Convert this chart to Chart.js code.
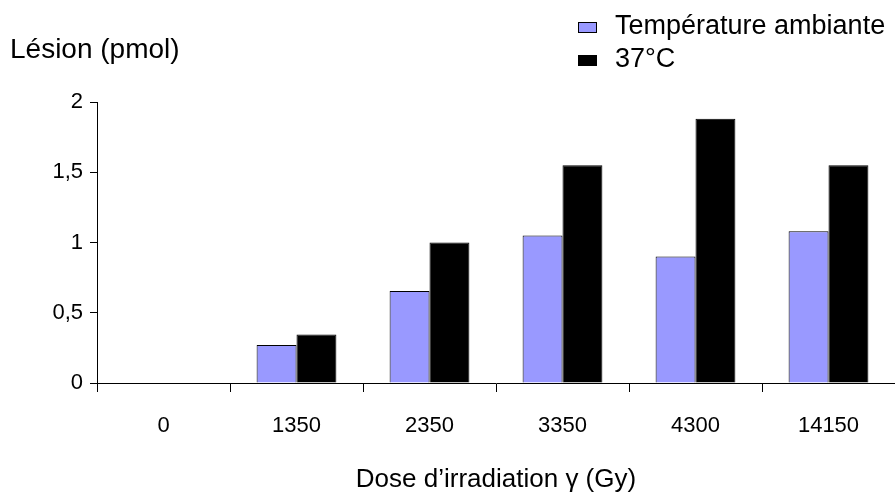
<!DOCTYPE html>
<html lang="fr">
<head>
<meta charset="utf-8">
<title>Lésion en fonction de la dose</title>
<script src="https://cdn.jsdelivr.net/npm/chart.js@4.4.1/dist/chart.umd.min.js"></script>
<style>
    html, body { margin: 0; padding: 0; background: #ffffff; }
    #wrap { width: 895px; height: 492px; }
</style>
</head>
<body>
<div id="wrap"><canvas id="lesionChart" width="895" height="492"></canvas></div>
<script>
// Doses (Gy) and measured lesions (pmol)
const doses = ['0', '1350', '2350', '3350', '4300', '14150'];
const ambiante = [0, 0.27, 0.655, 1.05, 0.9, 1.08];
const chaud = [0, 0.345, 1.0, 1.55, 1.88, 1.55];
const seriesNames = ['Température ambiante', '37°C'];
const yTicks = [0, 0.5, 1, 1.5, 2];
const yTitle = 'Lésion (pmol)';
const xTitle = 'Dose d\u2019irradiation \u03b3 (Gy)';

const FONT = '"Liberation Sans", Arial, Helvetica, sans-serif';

// Draws the y title above the axis and the stacked legend top right
const extraText = {
    id: 'extraText',
    afterDraw(chart) {
        const c = chart.ctx;
        c.save();
        c.fillStyle = '#000';
        c.font = '28px ' + FONT;
        c.textBaseline = 'middle';
        c.textAlign = 'left';
        c.fillText(yTitle, 10, 50);

        c.font = '27px ' + FONT;
        const rows = [27, 60];
        chart.data.datasets.forEach(function(ds, i) {
            c.fillStyle = ds.backgroundColor;
            c.fillRect(578, rows[i] - 5, 19, 11);
            c.strokeStyle = '#000';
            c.lineWidth = 1;
            c.strokeRect(578.5, rows[i] - 4.5, 18, 10);
            c.fillStyle = '#000';
            c.fillText(ds.label, 615, rows[i]);
        });
        c.restore();
    }
};

const ctx = document.getElementById('lesionChart').getContext('2d');
const lesionChart = new Chart(ctx, {
    type: 'bar',
    data: {
        labels: doses,
        datasets: [{
            label: seriesNames[0],
            data: ambiante,
            backgroundColor: '#9999ff',
            borderColor: '#000000',
            borderWidth: 1
        }, {
            label: seriesNames[1],
            data: chaud,
            backgroundColor: '#000000',
            borderColor: '#000000',
            borderWidth: 1
        }]
    },
    options: {
        responsive: false,
        animation: false,
        layout: { padding: { top: 102, left: 0, right: 0, bottom: 0 } },
        categoryPercentage: 0.6,
        barPercentage: 1.0,
        plugins: {
            legend: { display: false },
            tooltip: { enabled: false }
        },
        scales: {
            x: {
                grid: {
                    offset: true,
                    drawOnChartArea: false,
                    color: '#000',
                    tickLength: 9
                },
                border: { color: '#000', width: 1 },
                ticks: {
                    color: '#000',
                    font: { family: FONT, size: 22 },
                    padding: 21,
                    maxRotation: 0
                },
                title: {
                    display: true,
                    text: xTitle,
                    color: '#000',
                    font: { family: FONT, size: 26 },
                    padding: { top: 0, bottom: -3 }
                },
                afterFit(scale) { scale.height = 109; }
            },
            y: {
                min: 0,
                max: 2,
                afterBuildTicks(scale) {
                    scale.ticks = yTicks.map(function(v) { return { value: v }; });
                },
                grid: {
                    drawOnChartArea: false,
                    color: '#000',
                    tickLength: 7
                },
                border: { color: '#000', width: 1 },
                ticks: {
                    color: '#000',
                    font: { family: FONT, size: 22 },
                    padding: 7,
                    callback: function(v) { return String(v).replace('.', ','); }
                },
                afterFit(scale) { scale.width = 97; }
            }
        }
    },
    plugins: [extraText]
});
</script>
</body>
</html>
